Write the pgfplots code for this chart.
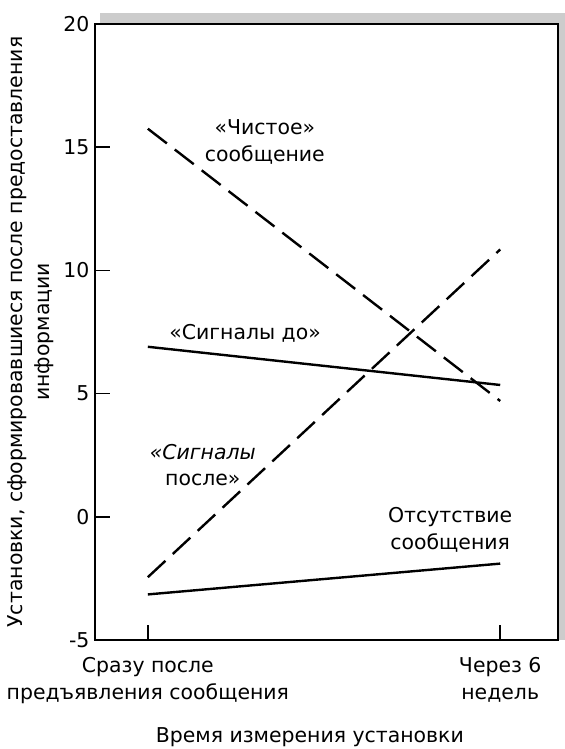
\documentclass[border=0pt]{standalone}
\usepackage{pgfplots}
\pgfplotsset{compat=1.18}
\usepackage{fontspec}
\setmainfont{DejaVu Sans}
\begin{document}
\begin{tikzpicture}
\path[use as bounding box] (-95bp,-109bp) rectangle (470bp,640bp);
% shadow band (top and right)
\fill[gray!40] (5bp,616bp) rectangle (470bp,627bp);
\fill[gray!40] (463bp,0bp) rectangle (470bp,627bp);
\begin{axis}[
  at={(0,0)}, anchor=south west,
  scale only axis, width=463bp, height=616bp,
  xmin=-0.15, xmax=1.164, ymin=-5, ymax=20,
  axis line style={line width=1.8bp},
  axis background/.style={fill=white},
  xtick={0,1}, ytick={-5,0,5,10,15,20},
  xticklabels={{Сразу после\\предъявления сообщения},{Через 6\\недель}},
  xtick pos=bottom, ytick pos=left, tick align=inside,
  major tick length=15bp,
  tick style={line width=1.5bp, black},
  /pgf/number format/assume math mode=true,
  font=\fontsize{20.5}{27}\selectfont,
  xticklabel style={align=center, anchor=north, yshift=-14bp},
  yticklabel style={xshift=-2bp},
  xlabel={Время измерения установки},
  ylabel={Установки, сформировавшиеся после предоставления\\информации},
  every axis x label/.style={at={(axis description cs:0.464,-0.157)}, anchor=center},
  every axis y label/.style={at={(axis description cs:-0.138,0.5)}, rotate=90, anchor=center, align=center},
  clip=false,
]
\addplot[black, line width=2.4bp, dash pattern=on 24bp off 10bp] coordinates {(0,15.75) (1,4.7)};
\addplot[black, line width=2.4bp, dash pattern=on 24bp off 10bp] coordinates {(0,-2.45) (1,10.85)};
\addplot[black, line width=2.4bp] coordinates {(0,6.9) (1,5.35)};
\addplot[black, line width=2.4bp] coordinates {(0,-3.15) (1,-1.9)};
\node[align=center] at (axis cs:0.332,15.2) {«Чистое»\\сообщение};
\node[align=center] at (axis cs:0.276,7.46) {«Сигналы до»};
\node[align=center] at (axis cs:0.156,2.1) {{\itshape«Сигналы}\\после»};
\node[align=center] at (axis cs:0.858,-0.54) {Отсутствие\\сообщения};
\end{axis}
\end{tikzpicture}
\end{document}
